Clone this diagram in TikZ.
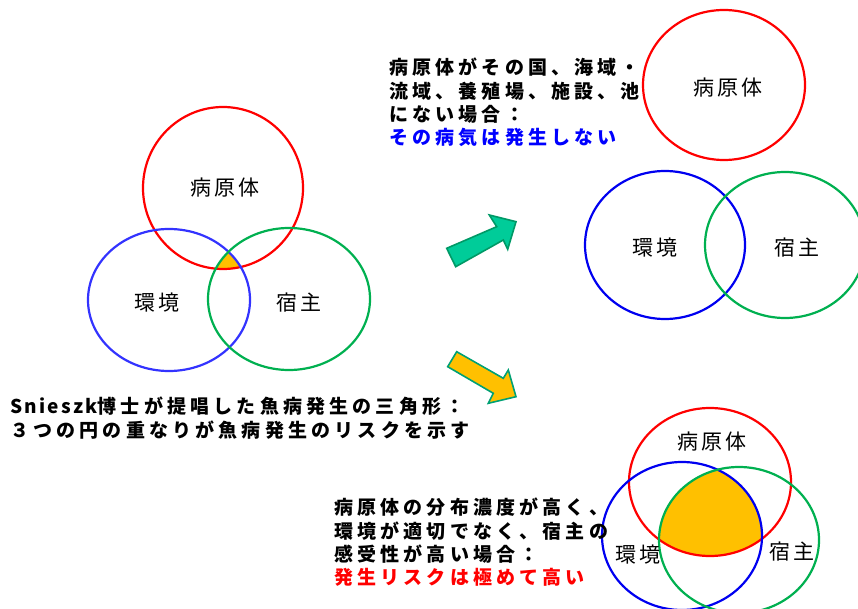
\documentclass[tikz,border=0pt]{standalone}
\usepackage{fontspec}
\setmainfont{Noto Sans CJK JP}
\newfontfamily\jpb{Noto Sans CJK JP}[LetterSpace=22]
\newfontfamily\jplat{Noto Sans CJK JP}[LetterSpace=12]
\newfontfamily\jpl{Noto Sans CJK JP}[LetterSpace=12]
\definecolor{cred}{RGB}{255,0,0}
\definecolor{cblueL}{RGB}{51,51,255}
\definecolor{cblue}{RGB}{0,0,240}
\definecolor{cgreen}{RGB}{0,176,80}
\definecolor{cfill}{RGB}{255,192,0}
\definecolor{arrG}{RGB}{0,204,153}
\definecolor{arrGb}{RGB}{0,153,102}
\definecolor{arrOb}{RGB}{0,160,116}
\definecolor{txtblue}{RGB}{0,0,255}
\tikzset{
  ring/.style={line width=2.2pt},
  lbl/.style={font=\jpl\fontsize{21}{24}\selectfont, inner sep=0pt},
  note/.style={font=\jpb\bfseries\fontsize{19}{23.2}\selectfont, align=left, inner sep=0pt, anchor=north west},
  bigarrow/.style={line width=1.6pt, line join=miter}
}
\begin{document}
\begin{tikzpicture}[x=1pt,y=-1pt]
\useasboundingbox (0,0) rectangle (858,609);
% ---------- left diagram ----------
\coordinate (LR) at (223,188);
\coordinate (LB) at (169,300);
\coordinate (LG) at (289,299);
\begin{scope}
  \clip (LR) ellipse [x radius=80pt, y radius=81pt];
  \clip (LB) ellipse [x radius=81pt, y radius=71pt];
  \fill[cfill] (LG) ellipse [x radius=81pt, y radius=71pt];
\end{scope}
\draw[ring, cred] (LR) ellipse [x radius=80pt, y radius=81pt];
\draw[ring, cblueL] (LB) ellipse [x radius=81pt, y radius=71pt];
\draw[ring, cgreen] (LG) ellipse [x radius=81pt, y radius=71pt];
\node[lbl] (lp) at (225,188) {病原体};
\node[lbl] (le) at (157,303) {環境};
\node[lbl] (lh) at (299,303) {宿主};
% ---------- top right ----------
\coordinate (TR) at (724,85);
\coordinate (TB) at (665,245);
\coordinate (TG) at (785,245);
\draw[ring, cred] (TR) ellipse [x radius=81pt, y radius=75pt];
\draw[ring, cblue] (TB) ellipse [x radius=80pt, y radius=74pt];
\draw[ring, cgreen] (TG) ellipse [x radius=80pt, y radius=73pt];
\node[lbl] (tp) at (728,88) {病原体};
\node[lbl] (te) at (655,248) {環境};
\node[lbl] (th) at (797,248) {宿主};
% ---------- bottom right ----------
\coordinate (BR) at (710,482);
\coordinate (BB) at (682,536);
\coordinate (BG) at (739,540);
\begin{scope}
  \clip (BR) ellipse [x radius=81pt, y radius=74pt];
  \clip (BB) ellipse [x radius=80pt, y radius=74pt];
  \fill[cfill] (BG) ellipse [x radius=80pt, y radius=73pt];
\end{scope}
\draw[ring, cred] (BR) ellipse [x radius=81pt, y radius=74pt];
\draw[ring, cblue] (BB) ellipse [x radius=80pt, y radius=74pt];
\draw[ring, cgreen] (BG) ellipse [x radius=80pt, y radius=73pt];
\node[lbl] (bp) at (712,442) {病原体};
\node[lbl] (be) at (638,555) {環境};
\node[lbl] (bh) at (792,552) {宿主};
% ---------- arrows ----------
\draw[bigarrow, draw=arrGb, fill=arrG]
  (446.7,248.3) -- (496.7,226.7) -- (489.3,215) -- (516,221.7)
  -- (507.7,249.3) -- (503.3,240) -- (455.7,266.7) -- cycle;
\draw[bigarrow, draw=arrOb, fill=cfill]
  (456.7,351.7) -- (503.3,378.3) -- (508.3,370) -- (516,396.7)
  -- (488.3,403.3) -- (493.3,393.3) -- (447.7,366.7) -- cycle;
% ---------- texts ----------
\node[note] (t1) at (389,58) {病原体がその国、海域・\\流域、養殖場、施設、池\\にない場合：\\\textcolor{txtblue}{その病気は発生しない}};
\node[note] (t2) at (10,397) {{\jplat Snieszk}博士が提唱した魚病発生の三角形：\\３つの円の重なりが魚病発生のリスクを示す};
\node[note] (t3) at (334,498) {病原体の分布濃度が高く、\\環境が適切でなく、宿主の\\感受性が高い場合：\\\textcolor{cred}{発生リスクは極めて高い}};
\end{tikzpicture}
\end{document}
